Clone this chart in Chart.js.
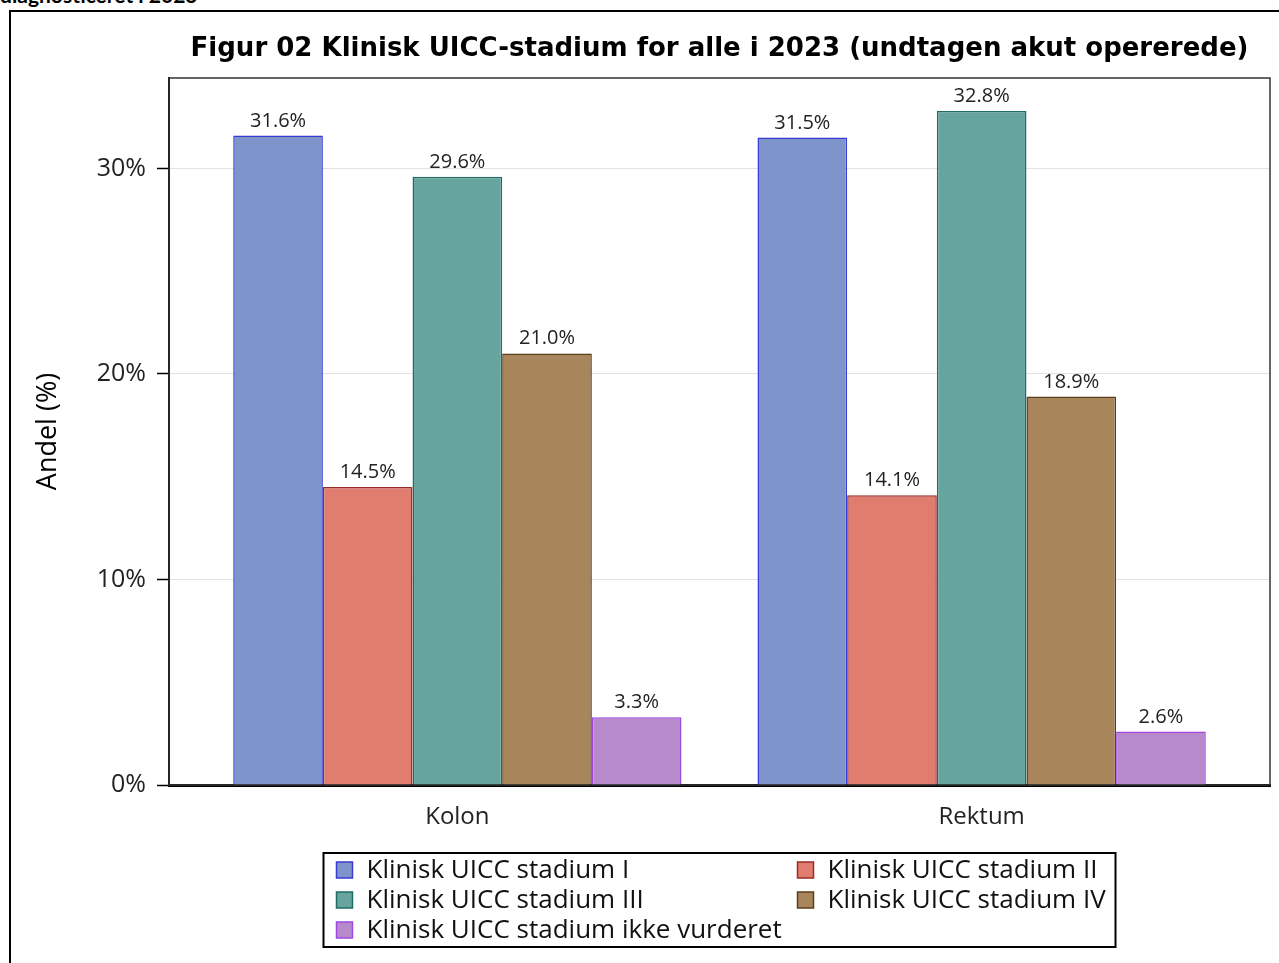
<!DOCTYPE html>
<html>
<head>
<meta charset="utf-8">
<script src="https://cdn.jsdelivr.net/npm/chart.js@4"></script>
<style>
  html, body { margin: 0; padding: 0; background: #fff; overflow: hidden; }
  .caption {
    position: absolute; left: 0; top: -16px;
    font: bold 21px Lato, "Liberation Sans", sans-serif; line-height: 22px; color: #000;
  }
  .frame {
    position: absolute; left: 9px; top: 10px; width: 1400px; height: 1100px;
    border: 2px solid #000;
  }
  #chart { position: absolute; left: 0; top: 0; }
</style>
</head>
<body>
<div class="caption">diagnosticeret i 2023</div>
<div class="frame"></div>
<canvas id="chart" width="1279" height="963"></canvas>
<script>
const TITLE = 'Figur 02 Klinisk UICC-stadium for alle i 2023 (undtagen akut opererede)';
const AXIS_TITLE = 'Andel (%)';

// categories on the x axis
const categories = ['Kolon', 'Rektum'];

// series, one value per category (percent)
const stadiumI = [31.6, 31.5];
const stadiumII = [14.5, 14.1];
const stadiumIII = [29.6, 32.8];
const stadiumIV = [21.0, 18.9];
const stadiumIkke = [3.3, 2.6];

const seriesLabels = [
  'Klinisk UICC stadium I',
  'Klinisk UICC stadium II',
  'Klinisk UICC stadium III',
  'Klinisk UICC stadium IV',
  'Klinisk UICC stadium ikke vurderet',
];

const yTicks = [0, 10, 20, 30];

const FILLS = ['#7e95cc', '#e07d6e', '#66a59e', '#a8855a', '#b78acb'];
const LINES = ['#3a3ad2', '#9a2a2a', '#1e6c64', '#5a3f1c', '#a047e0'];

const SANS = '"Open Sans", sans-serif';

const seriesValues = [stadiumI, stadiumII, stadiumIII, stadiumIV, stadiumIkke];

const datasets = seriesValues.map((vals, k) => ({
  label: seriesLabels[k],
  data: vals.map((v, i) => ({ x: i, y: v })),
  backgroundColor: FILLS[k],
  borderColor: LINES[k],
  borderWidth: 1.5,
  borderSkipped: 'bottom',
  categoryPercentage: 0.855,
  barPercentage: 1.0,
}));

// plot frame, title, value labels and the boxed legend
const decor = {
  id: 'decor',
  beforeDatasetsDraw(chart) {
    const { ctx, chartArea: a } = chart;
    ctx.save();
    ctx.strokeStyle = '#333';
    ctx.lineWidth = 1.5;
    ctx.strokeRect(a.left, a.top, a.right - a.left, a.bottom - a.top);
    ctx.restore();
  },
  afterDatasetsDraw(chart) {
    const { ctx } = chart;
    ctx.save();
    ctx.font = '20px ' + SANS;
    ctx.fillStyle = '#222';
    ctx.textAlign = 'center';
    ctx.textBaseline = 'alphabetic';
    chart.data.datasets.forEach((ds, k) => {
      chart.getDatasetMeta(k).data.forEach((bar, i) => {
        ctx.fillText(seriesValues[k][i].toFixed(1) + '%', bar.x, bar.y - 9);
      });
    });
    ctx.restore();
  },
  afterDraw(chart) {
    const { ctx, chartArea: a } = chart;
    const cx = (a.left + a.right) / 2;
    ctx.save();
    // title
    ctx.font = 'bold 26px "DejaVu Sans", sans-serif';
    ctx.fillStyle = '#000';
    ctx.textAlign = 'center';
    ctx.textBaseline = 'middle';
    ctx.fillText(TITLE, cx, 49);

    // legend
    const bx = cx - 396, by = 853, bw = 792, bh = 94;
    ctx.strokeStyle = '#000';
    ctx.lineWidth = 2;
    ctx.strokeRect(bx, by, bw, bh);
    ctx.font = '26px ' + SANS;
    ctx.textAlign = 'left';
    const colX = [bx + 13, bx + 474];
    const rowY = [870, 900, 930];
    seriesLabels.forEach((lab, k) => {
      const x = colX[k % 2], y = rowY[Math.floor(k / 2)];
      ctx.fillStyle = FILLS[k];
      ctx.fillRect(x, y - 8, 16, 16);
      ctx.strokeStyle = LINES[k];
      ctx.lineWidth = 1.5;
      ctx.strokeRect(x, y - 8, 16, 16);
      ctx.fillStyle = '#111';
      ctx.fillText(lab, x + 30, y + 1);
    });
    ctx.restore();
  },
};

new Chart(document.getElementById('chart'), {
  type: 'bar',
  data: { datasets },
  options: {
    responsive: false,
    animation: false,
    devicePixelRatio: 1,
    layout: { padding: { left: 10, top: 78, right: 9, bottom: 0 } },
    plugins: {
      legend: { display: false },
      title: { display: false },
      tooltip: { enabled: false },
    },
    scales: {
      x: {
        type: 'linear',
        min: -0.55,
        max: 1.55,
        offset: false,
        afterBuildTicks: s => { s.ticks = categories.map((c, i) => ({ value: i })); },
        afterFit: s => { s.height = 178; },
        grid: { display: false, drawTicks: false },
        border: { display: true, color: '#000', width: 3 },
        ticks: {
          callback: v => categories[v] ?? '',
          font: { family: SANS, size: 24 },
          color: '#222',
          padding: 18,
          maxRotation: 0,
          autoSkip: false,
        },
      },
      y: {
        min: 0,
        max: 34.4,
        afterBuildTicks: s => { s.ticks = yTicks.map(v => ({ value: v })); },
        afterFit: s => { s.width = 159; },
        grid: {
          color: '#e2e2e2',
          lineWidth: 1,
          tickColor: '#000',
          tickLength: 12,
          tickWidth: 1.5,
        },
        border: { display: true, color: '#000', width: 2 },
        ticks: {
          callback: v => v + '%',
          font: { family: SANS, size: 25 },
          color: '#222',
          padding: 11,
        },
        title: {
          display: true,
          text: AXIS_TITLE,
          font: { family: SANS, size: 27 },
          color: '#000',
          padding: { top: 22, bottom: 0 },
        },
      },
    },
  },
  plugins: [decor],
});
</script>
</body>
</html>
